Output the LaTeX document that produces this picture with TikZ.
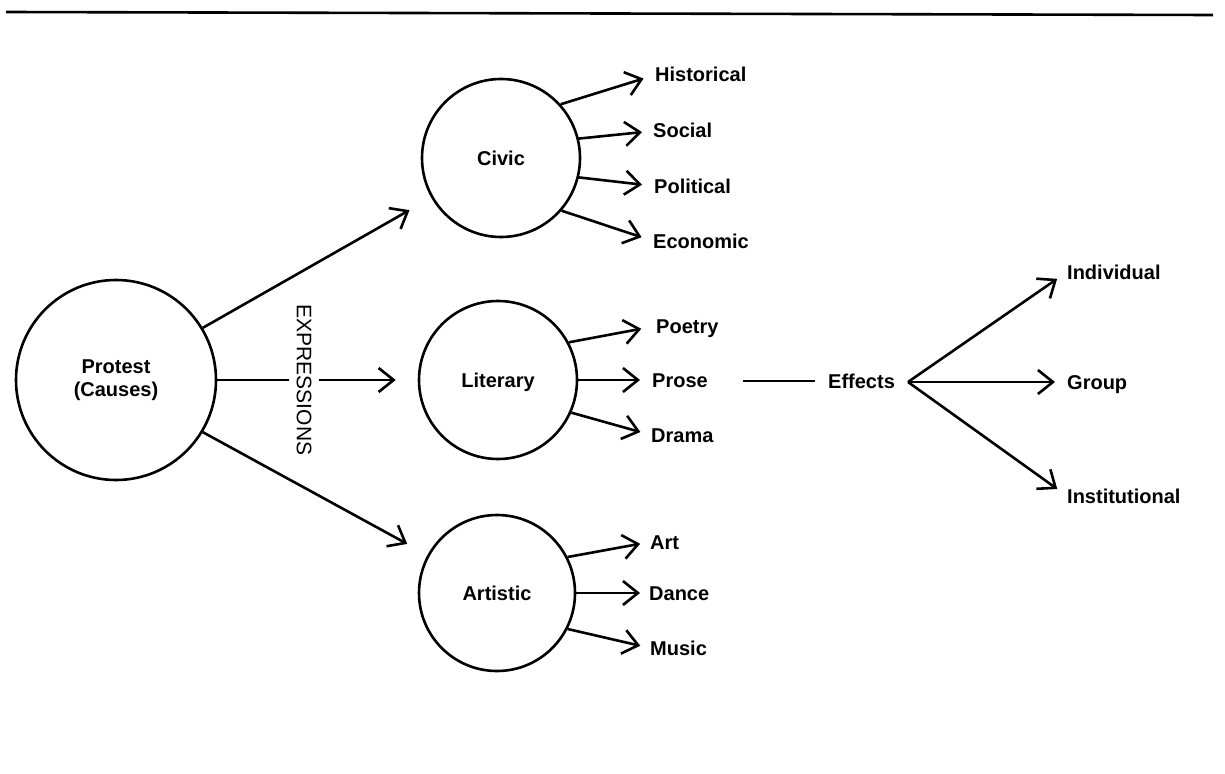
\documentclass[tikz,border=0pt]{standalone}
\usepackage{fontspec}
\setmainfont{Liberation Sans}
\usetikzlibrary{arrows.meta}
\begin{document}
\begin{tikzpicture}[x=1pt,y=-1pt,
  lw/.style={line width=2.6pt},
  arr/.style={lw, -{Straight Barb[length=15pt,width=24pt,line width=2.6pt]}},
  circ/.style={draw, lw, circle, inner sep=0pt, font=\fontsize{20}{23}\selectfont\bfseries},
  onel/.style={text height=14pt, text depth=0pt},
  lbl/.style={anchor=west, inner sep=0pt, text height=14pt, text depth=0pt, font=\fontsize{20}{23}\selectfont\bfseries}]
\useasboundingbox (0,0) rectangle (1225,773);
% top rule
\coordinate (r1) at (6,12);
\coordinate (r2) at (1213,15);
\draw[line width=2.6pt] (r1) -- (r2);
% circles
\node[circ, minimum size=200pt, align=center] (protest) at (116,380) {Protest\\(Causes)};
\node[circ, onel, minimum size=158pt] (civic) at (501,158) {Civic};
\node[circ, onel, minimum size=158pt] (literary) at (498,380) {Literary};
\node[circ, onel, minimum size=156pt] (artistic) at (497,593) {Artistic};
% leaves
\node[lbl] (hist) at (655,75) {Historical};
\node[lbl] (soc) at (653,131) {Social};
\node[lbl] (pol) at (654,186) {Political};
\node[lbl] (eco) at (653,241) {Economic};
\node[lbl] (poetry) at (656,326) {Poetry};
\node[lbl] (prose) at (652,380) {Prose};
\node[lbl] (drama) at (651,435) {Drama};
\node[lbl] (art) at (650,542) {Art};
\node[lbl] (dance) at (649,593) {Dance};
\node[lbl] (music) at (650,648) {Music};
\node[lbl] (effects) at (828,381) {Effects};
\node[lbl] (indiv) at (1067,272) {Individual};
\node[lbl] (group) at (1067,382) {Group};
\node[lbl] (inst) at (1067,496) {Institutional};
% protest arrows
\draw[arr, shorten >=25pt] (protest.31) -- (civic);
\draw[arr, shorten >=22pt] (protest) -- (literary);
\draw[arr, shorten >=23pt] (protest.-31) -- (artistic);
\node[fill=white, rotate=-90, inner sep=7.5pt, text height=14.4pt, text depth=0pt,
      font=\fontsize{21}{24}\selectfont] (expr) at (304,380) {EXPRESSIONS};
% civic arrows
\draw[arr, shorten >=12pt] (civic.42) -- (hist.west);
\draw[arr, shorten >=11pt] (civic.14) -- (soc.west);
\draw[arr, shorten >=12pt] (civic.-14) -- (pol.west);
\draw[arr, shorten >=12pt] (civic.-41) -- (eco.west);
% literary arrows
\draw[arr, shorten >=15pt] (literary.28) -- (poetry.west);
\draw[arr, shorten >=12pt] (literary.0) -- (prose.west);
\draw[arr, shorten >=11pt] (literary.-24) -- (drama.west);
% artistic arrows
\draw[arr, shorten >=10pt] (artistic.27) -- (art.west);
\draw[arr, shorten >=9pt] (artistic.0) -- (dance.west);
\draw[arr, shorten >=10pt] (artistic.-27) -- (music.west);
% effects
\coordinate (pline) at (743,381);
\draw[line width=1.8pt, shorten >=13pt] (pline) -- (effects.west);
\coordinate (fork) at (908,382);
\draw[arr, shorten >=12pt] (fork) -- (indiv.west);
\draw[arr, shorten >=12pt] (fork) -- (group.west);
\draw[arr, shorten >=12pt] (fork) -- (inst.west);
\end{tikzpicture}
\end{document}
